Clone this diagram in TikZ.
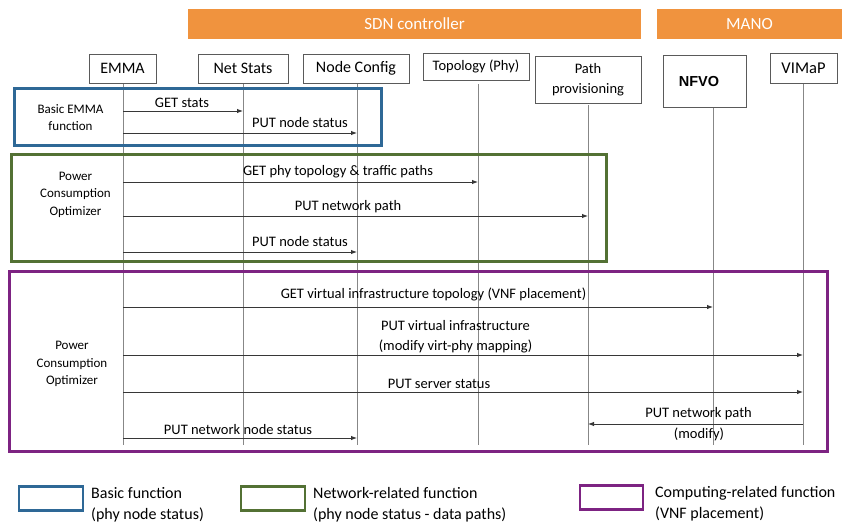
\documentclass[tikz,border=0pt]{standalone}
\usepackage{fontspec}
\setmainfont{Carlito}
\newfontfamily\arialfont{Liberation Sans}
\usetikzlibrary{arrows.meta}
\definecolor{barorange}{RGB}{240,147,62}
\definecolor{fblue}{RGB}{46,104,150}
\definecolor{fgreen}{RGB}{83,113,52}
\definecolor{fpurple}{RGB}{125,35,130}
\definecolor{lifegray}{RGB}{135,135,135}
\definecolor{msggray}{RGB}{55,55,55}
\definecolor{boxgray}{RGB}{90,90,90}
\tikzset{
  bar/.style={fill=barorange, draw=none, text=white, inner sep=0pt, font=\fontsize{17}{20}\selectfont},
  part/.style={draw=boxgray, fill=white, line width=0.8pt, inner sep=0pt, align=center, font=\fontsize{16}{20}\selectfont},
  life/.style={draw=lifegray, line width=1pt},
  msg/.style={draw=msggray, line width=0.9pt, -{Latex[length=6pt,width=4.5pt]}},
  lbl/.style={inner sep=0pt, align=center, font=\fontsize{14.5}{20}\selectfont},
  flbl/.style={inner sep=0pt, align=center, font=\fontsize{13}{17.5}\selectfont},
  frame/.style={line width=3.2pt},
  legbox/.style={line width=2.6pt},
  legtxt/.style={inner sep=0pt, anchor=west, align=left, font=\fontsize{16}{21}\selectfont}
}
\begin{document}
\begin{tikzpicture}[x=1pt,y=-1pt]
\useasboundingbox (0,0) rectangle (842,527);
% header bars
\node[bar, minimum width=453pt, minimum height=30pt] (sdn) at (414.5,24) {SDN controller};
\node[bar, minimum width=185pt, minimum height=30pt] (mano) at (749.5,24) {MANO};
% lifeline ends
\coordinate (emmaE) at (123,445);
\coordinate (nsE) at (243,445);
\coordinate (ncE) at (357,445);
\coordinate (topoE) at (478,445);
\coordinate (ppE) at (588,445);
\coordinate (nfvoE) at (713,445);
\coordinate (vimE) at (803,445);
% lifelines (drawn first)
\draw[life] (123,83) -- (emmaE);
\draw[life] (243,83) -- (nsE);
\draw[life] (357,83) -- (ncE);
\draw[life] (478,84) -- (topoE);
\draw[life] (588,105) -- (ppE);
\draw[life] (713,107) -- (nfvoE);
\draw[life] (803,83) -- (vimE);
% participants
\node[part, minimum width=67pt, minimum height=29pt] (emma) at (122.5,68.5) {EMMA};
\node[part, minimum width=90pt, minimum height=29pt] (ns) at (243,68.5) {Net Stats};
\node[part, minimum width=106pt, minimum height=29pt] (nc) at (356,68.5) {Node Config};
\node[part, minimum width=106pt, minimum height=27pt, font=\fontsize{14.5}{18}\selectfont] (topo) at (476,66.5) {Topology (Phy)};
\node[part, minimum width=106pt, minimum height=47pt, font=\fontsize{14.5}{20}\selectfont] (pp) at (588,79.5) {Path\\provisioning};
\node[part, minimum width=83pt, minimum height=52pt] (nfvo) at (704.5,81) {};
\node[inner sep=0pt, font=\arialfont\bfseries\fontsize{14.5}{18}\selectfont] (nfvoT) at (699,82) {NFVO};
\node[part, minimum width=67pt, minimum height=30pt, font=\fontsize{16.5}{20}\selectfont] (vim) at (803.5,68) {VIMaP};
% frames
\draw[frame, fblue] (14.5,88.5) rectangle (381.5,145.5);
\draw[frame, fgreen] (11.5,154.5) rectangle (606.5,261.5);
\draw[frame, fpurple] (9.5,271.5) rectangle (827.5,451.5);
\node[flbl] (f1) at (70.5,117.5) {Basic EMMA\\function};
\node[flbl] (f2) at (75.5,194.5) {Power\\Consumption\\Optimizer};
\node[flbl] (f3) at (72,364) {Power\\Consumption\\Optimizer};
% messages
\draw[msg] (emmaE |- 0,111) -- (nsE |- 0,111);
\node[lbl] (m1) at (182,103) {GET stats};
\draw[msg] (emmaE |- 0,133) -- (ncE |- 0,133);
\node[lbl] (m2) at (300,123) {PUT node status};
\draw[msg] (emmaE |- 0,182) -- (topoE |- 0,182);
\node[lbl] (m3) at (338,172) {GET phy topology \& traffic paths};
\draw[msg] (emmaE |- 0,216) -- (ppE |- 0,216);
\node[lbl] (m4) at (348,207) {PUT network path};
\draw[msg] (emmaE |- 0,252) -- (ncE |- 0,252);
\node[lbl] (m5) at (300,242) {PUT node status};
\draw[msg] (emmaE |- 0,307) -- (nfvoE |- 0,307);
\node[lbl] (m6) at (433.5,294.5) {GET virtual infrastructure topology (VNF placement)};
\draw[msg] (emmaE |- 0,355) -- (vimE |- 0,355);
\node[lbl] (m7) at (455.5,337) {PUT virtual infrastructure\\(modify virt-phy mapping)};
\draw[msg] (emmaE |- 0,392) -- (vimE |- 0,392);
\node[lbl] (m8) at (439,384) {PUT server status};
\draw[msg] (vimE |- 0,424) -- (ppE |- 0,424);
\node[lbl] (m9) at (698.5,413.5) {PUT network path};
\node[lbl] (m9b) at (699,434.5) {(modify)};
\draw[msg] (emmaE |- 0,438) -- (ncE |- 0,438);
\node[lbl] (m10) at (238,430) {PUT network node status};
% legend
\draw[legbox, fblue] (19,486.5) rectangle (83,510.5);
\node[legtxt] (l1) at (91,504.5) {Basic function\\(phy node status)};
\draw[legbox, fgreen] (241,486.5) rectangle (305,510.5);
\node[legtxt] (l2) at (313,504.5) {Network-related function\\(phy node status - data paths)};
\draw[legbox, fpurple] (580,485.5) rectangle (643,509.5);
\node[legtxt] (l3) at (655,503.5) {Computing-related function\\(VNF placement)};
\end{tikzpicture}
\end{document}
